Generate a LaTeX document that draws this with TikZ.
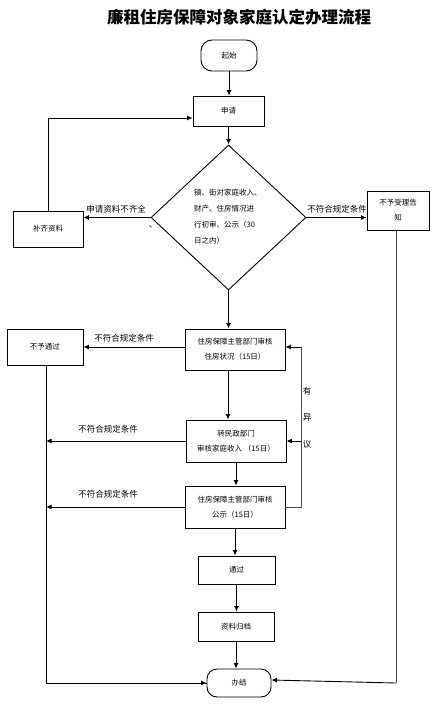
\documentclass[tikz,border=0pt]{standalone}
\usepackage{fontspec}
\setmainfont{Noto Sans CJK SC}
\usetikzlibrary{shapes.geometric,arrows.meta}
\begin{document}
\begin{tikzpicture}[x=1pt,y=-1pt,
  box/.style={draw,line width=0.9pt,inner sep=0pt,font=\fontsize{7.5}{15}\selectfont,align=center},
  term/.style={box,rounded corners=11pt},
  conn/.style={line width=0.9pt},
  arr/.style={conn,-{Latex[length=5.5pt,width=5pt]}},
  lbl/.style={font=\fontsize{8.5}{10}\selectfont,inner sep=0pt},
  txt/.style={font=\fontsize{7.5}{16}\selectfont,inner sep=0pt,align=left}]
\useasboundingbox (0,0) rectangle (445,705);
\node[font=\fontsize{16.5}{18}\selectfont\bfseries] (title) at (239,17) {廉租住房保障对象家庭认定办理流程};
\node[term,minimum width=56pt,minimum height=31pt] (start) at (229,55.5) {起始};
\node[box,minimum width=71pt,minimum height=30pt] (apply) at (228.5,111) {申请};
\node[draw,diamond,line width=0.9pt,minimum width=155pt,minimum height=145pt,inner sep=0pt] (dia) at (228.5,217.5) {};
\node[txt,anchor=west] (dtext) at (194,217) {镇、街对家庭收入、\\财产、住房情况进\\行初审、公示（30\\日之内）};
\node[box,minimum width=70pt,minimum height=36pt] (bq) at (48,229) {补齐资料};
\node[box,minimum width=62pt,minimum height=39pt] (bz) at (398,210.5) {不予受理告\\知};
\node[box,minimum width=100pt,minimum height=41pt] (b3) at (235,349.5) {住房保障主管部门审核\\住房状况（15日）};
\node[box,minimum width=76pt,minimum height=36pt] (np) at (45,347) {不予通过};
\node[box,minimum width=100pt,minimum height=42pt] (b4) at (236,441) {转民政部门\\审核家庭收入 （15日）};
\node[box,minimum width=100pt,minimum height=42pt] (b5) at (235,507) {住房保障主管部门审核\\公示（15日）};
\node[box,minimum width=77pt,minimum height=28pt] (pass) at (236.5,570) {通过};
\node[box,minimum width=76pt,minimum height=29pt] (arch) at (236,626.5) {资料归档};
\node[term,minimum width=64pt,minimum height=28pt,rounded corners=10pt] (end) at (239,683) {办结};
\coordinate (fb) at (301,0);
\coordinate (lx) at (46,0);
% connectors
\draw[arr] (start.south) -- (start.south |- apply.north);
\draw[arr] (apply.south -| dia.north) -- (dia.north);
\draw[arr] (dia.west) -- (dia.west -| bq.east);
\draw[arr] (bq.north) |- ([yshift=-7pt]apply.west);
\draw[arr] (dia.east) -- (dia.east -| bz.west);
\draw[conn,gray!60!black] ([xshift=-2pt]bz.south) -- ([xshift=-2pt]bz.south |- end.east) coordinate (bze);
\draw[arr] (bze) -- ([yshift=3pt]end.east);
\draw[arr] (dia.south) -- (dia.south |- b3.north);
\draw[arr] (b3.west |- np.east) -- (np.east);
\draw[conn] (np.south -| lx) |- (end.west) coordinate (npe);
\draw[arr] ([xshift=-40pt]end.west) -- (end.west);
\draw[arr] ([xshift=-7pt]b3.south) -- ([xshift=-7pt]b3.south |- b4.north);
\draw[arr] (b4.west) -- (b4.west -| lx);
\draw[arr] (b4.south) -- (b4.south |- b5.north);
\draw[arr] (b5.west) -- (b5.west -| lx);
\draw[conn,gray!60!black] (b5.east) -- (b5.east -| fb) -- (fb |- np.east);
\draw[arr] (fb |- np.east) -- (np.east -| b3.east);
\draw[arr] (fb |- b4.east) -- (b4.east);
\draw[arr] (b5.south) -- (b5.south |- pass.north);
\draw[arr] (pass.south) -- (pass.south |- arch.north);
\draw[arr] (arch.south) -- (arch.south |- end.north);
% labels
\node[lbl] (l1) at (116,209) {申请资料不齐全};
\node[lbl] (l1b) at (153,227) {、};
\node[lbl] (l2) at (337,209) {不符合规定条件};
\node[lbl] (l3) at (124,338) {不符合规定条件};
\node[lbl] (l4) at (108,429) {不符合规定条件};
\node[lbl] (l5) at (108,494) {不符合规定条件};
\node[lbl] (y1) at (307,391) {有};
\node[lbl] (y2) at (307,417) {异};
\node[lbl] (y3) at (307,444) {议};
\end{tikzpicture}
\end{document}
